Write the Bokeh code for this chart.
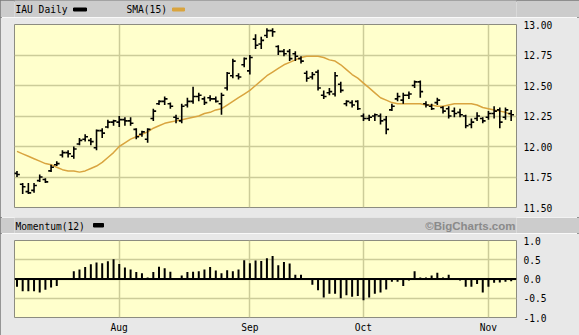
from bokeh.plotting import figure
from bokeh.layouts import column
from bokeh.models import (Range1d, LinearAxis, FixedTicker, Grid, NumeralTickFormatter,
                          Label, Span, ColumnDataSource)
from bokeh.transform import dodge
from bokeh.embed import file_html
from bokeh.resources import INLINE

# ---- data (IAU daily, Jul 6 - Nov 7 2017, trading-day index) ----
opens = [11.78, 11.69, 11.63, 11.64, 11.72, 11.73, 11.80, 11.85, 11.93, 11.95,
         11.92, 12.02, 12.06, 12.05, 11.99, 12.13, 12.16, 12.20, 12.20, 12.22,
         12.21, 12.14, 12.10, 12.06, 12.23, 12.35, 12.37, 12.35, 12.24, 12.21,
         12.34, 12.37, 12.41, 12.39, 12.40, 12.39, 12.35, 12.48, 12.58, 12.58,
         12.67, 12.62, 12.88, 12.84, 12.91, 12.95, 12.82, 12.78, 12.78, 12.76,
         12.72, 12.60, 12.57, 12.61, 12.42, 12.44, 12.43, 12.51, 12.35, 12.36,
         12.37, 12.25, 12.23, 12.25, 12.25, 12.22, 12.30, 12.39, 12.38, 12.42,
         12.50, 12.53, 12.35, 12.33, 12.36, 12.32, 12.31, 12.29, 12.28, 12.25,
         12.18, 12.23, 12.23, 12.24, 12.27, 12.30, 12.24, 12.27]
highs = [11.80, 11.70, 11.70, 11.70, 11.77, 11.74, 11.85, 11.88, 11.97, 11.97,
         12.00, 12.07, 12.10, 12.07, 12.14, 12.15, 12.22, 12.22, 12.25, 12.24,
         12.24, 12.15, 12.13, 12.15, 12.31, 12.38, 12.41, 12.36, 12.26, 12.35,
         12.40, 12.49, 12.44, 12.41, 12.42, 12.41, 12.44, 12.61, 12.72, 12.60,
         12.73, 12.75, 12.92, 12.90, 12.97, 12.97, 12.83, 12.80, 12.80, 12.78,
         12.74, 12.62, 12.61, 12.63, 12.46, 12.48, 12.61, 12.53, 12.38, 12.38,
         12.38, 12.27, 12.26, 12.27, 12.27, 12.25, 12.35, 12.44, 12.44, 12.45,
         12.54, 12.54, 12.37, 12.35, 12.40, 12.33, 12.33, 12.32, 12.31, 12.26,
         12.23, 12.28, 12.24, 12.29, 12.33, 12.32, 12.32, 12.30]
lows = [11.75, 11.61, 11.61, 11.62, 11.71, 11.70, 11.79, 11.84, 11.91, 11.91,
        11.90, 12.01, 12.04, 12.01, 11.97, 12.07, 12.15, 12.17, 12.16, 12.17,
        12.17, 12.06, 12.08, 12.03, 12.21, 12.34, 12.34, 12.31, 12.19, 12.19,
        12.32, 12.35, 12.37, 12.34, 12.37, 12.36, 12.26, 12.46, 12.56, 12.55,
        12.65, 12.59, 12.80, 12.80, 12.89, 12.90, 12.75, 12.74, 12.70, 12.70,
        12.68, 12.53, 12.55, 12.46, 12.39, 12.42, 12.41, 12.44, 12.33, 12.32,
        12.30, 12.21, 12.21, 12.21, 12.18, 12.10, 12.29, 12.37, 12.35, 12.39,
        12.48, 12.40, 12.32, 12.30, 12.34, 12.27, 12.23, 12.24, 12.24, 12.15,
        12.15, 12.21, 12.19, 12.22, 12.23, 12.15, 12.22, 12.21]
closes = [11.77, 11.67, 11.62, 11.68, 11.75, 11.71, 11.83, 11.86, 11.95, 11.94,
          11.98, 12.05, 12.08, 12.04, 12.13, 12.11, 12.20, 12.21, 12.22, 12.21,
          12.19, 12.08, 12.12, 12.14, 12.29, 12.37, 12.39, 12.33, 12.23, 12.33,
          12.37, 12.41, 12.42, 12.36, 12.39, 12.37, 12.42, 12.60, 12.70, 12.57,
          12.72, 12.73, 12.83, 12.87, 12.95, 12.94, 12.78, 12.76, 12.72, 12.74,
          12.70, 12.56, 12.59, 12.48, 12.41, 12.45, 12.58, 12.46, 12.37, 12.34,
          12.31, 12.23, 12.24, 12.26, 12.21, 12.14, 12.33, 12.41, 12.42, 12.43,
          12.53, 12.45, 12.34, 12.31, 12.38, 12.29, 12.25, 12.27, 12.26, 12.17,
          12.20, 12.25, 12.21, 12.27, 12.29, 12.20, 12.30, 12.26]
sma15 = [11.96, 11.94, 11.92, 11.90, 11.88, 11.86, 11.85, 11.83, 11.81, 11.80,
         11.80, 11.79, 11.80, 11.82, 11.84, 11.87, 11.91, 11.95, 12.00, 12.03,
         12.06, 12.08, 12.10, 12.12, 12.15, 12.17, 12.19, 12.20, 12.21, 12.22,
         12.23, 12.24, 12.25, 12.27, 12.28, 12.30, 12.31, 12.34, 12.37, 12.40,
         12.43, 12.46, 12.50, 12.54, 12.58, 12.61, 12.64, 12.67, 12.69, 12.71,
         12.73, 12.74, 12.74, 12.74, 12.73, 12.71, 12.70, 12.67, 12.63, 12.59,
         12.56, 12.52, 12.48, 12.44, 12.40, 12.38, 12.36, 12.35, 12.35, 12.35,
         12.35, 12.35, 12.34, 12.34, 12.33, 12.33, 12.34, 12.35, 12.35, 12.35,
         12.35, 12.34, 12.32, 12.31, 12.30, 12.29, 12.28, 12.26]
momentum = [-0.20, -0.32, -0.32, -0.32, -0.35, -0.28, -0.22, -0.18, 0.0, 0.0,
            0.20, 0.25, 0.31, 0.38, 0.43, 0.41, 0.46, 0.51, 0.39, 0.30,
            0.25, 0.18, 0.15, 0.04, 0.18, 0.32, 0.28, 0.19, 0.0, 0.09,
            0.18, 0.19, 0.20, 0.25, 0.31, 0.22, 0.15, 0.23, 0.20, 0.25,
            0.49, 0.41, 0.48, 0.47, 0.54, 0.60, 0.36, 0.44, 0.40, 0.11,
            0.11, 0.0, -0.15, -0.29, -0.48, -0.38, -0.38, -0.50, -0.42, -0.46,
            -0.44, -0.55, -0.48, -0.38, -0.35, -0.27, -0.07, -0.07, -0.18, -0.04,
            0.20, 0.04, 0.04, 0.09, 0.16, 0.04, 0.11, 0.0, -0.04, -0.20,
            -0.20, -0.13, -0.35, -0.20, -0.10, -0.09, -0.07, -0.06]
month_ticks = [18, 41, 61, 83]
month_labels = ["Aug", "Sep", "Oct", "Nov"]
price_ticks = [11.50, 11.75, 12.00, 12.25, 12.50, 12.75, 13.00]
mom_ticks = [-1.0, -0.5, 0.0, 0.5, 1.0]

# ---- styles ----
W = 579
LEFT = 14
RIGHT = 63
BG = "#e8e8e8"
BAND = "#cccccc"
FRAME = "#ffffcc"
GRID = "#cccc99"
SMA_COL = "#d9a43f"
MONO = "DejaVu Sans Mono"
FS = "9.6px"

src = ColumnDataSource(dict(x=list(range(len(closes))), o=opens, h=highs, l=lows,
                            c=closes, s=sma15, m=momentum))
xr = Range1d(-0.44, 87.94)


def header(height, items):
    # same borders as the panels; x data == page pixel inside the frame
    f = figure(width=W, height=height, x_range=Range1d(LEFT, W - RIGHT),
               y_range=Range1d(height, 0),
               x_axis_type=None, y_axis_type=None, toolbar_location=None,
               output_backend="svg", min_border=0, min_border_left=LEFT,
               min_border_right=RIGHT, min_border_top=0, min_border_bottom=0)
    f.background_fill_color = BAND
    f.border_fill_color = BAND
    f.outline_line_color = None
    for it in items:
        f.add_layout(it)
    return f


def lab(x, y, text, align="left", font=MONO, size=FS, color="black", style="normal"):
    return Label(x=x, y=y, text=text, text_align=align, text_baseline="middle",
                 text_font=font, text_font_size=size, text_color=color, text_font_style=style)


def style_axis(ax, standoff):
    ax.axis_line_color = None
    ax.major_tick_line_color = None
    ax.minor_tick_line_color = None
    ax.major_tick_out = 0
    ax.major_tick_in = 0
    ax.major_label_standoff = standoff
    ax.major_label_text_font = MONO
    ax.major_label_text_font_size = FS
    ax.major_label_text_color = "black"


# header 1
h1 = header(17, [lab(15, 9, "IAU Daily"), lab(126, 9, "SMA(15)"),
                 lab(571, 9, "11/07/17", align="right")])
h1.quad(left=[73], right=[86], top=[7.5], bottom=[10.5], color="black")
h1.quad(left=[172], right=[184], top=[7.5], bottom=[10.5], color=SMA_COL)

# main price panel
p = figure(width=W, height=200, x_range=xr, y_range=Range1d(11.5, 13.0),
           x_axis_type=None, y_axis_type=None, toolbar_location=None,
           output_backend="svg", min_border_left=LEFT, min_border_right=RIGHT,
           min_border_top=7, min_border_bottom=10)
p.background_fill_color = FRAME
p.border_fill_color = BG
p.outline_line_color = "#8c8c80"
p.add_layout(Grid(dimension=0, ticker=FixedTicker(ticks=month_ticks),
                  grid_line_color=GRID, grid_line_width=1.5))
p.add_layout(Grid(dimension=1, ticker=FixedTicker(ticks=price_ticks),
                  grid_line_color=GRID, grid_line_width=1.5))
ya = LinearAxis(ticker=FixedTicker(ticks=price_ticks),
                formatter=NumeralTickFormatter(format="0.00"))
style_axis(ya, 7)
p.add_layout(ya, "right")

p.line("x", "s", source=src, color=SMA_COL, line_width=1.5)
p.segment(x0="x", y0="l", x1="x", y1="h", source=src, color="black", line_width=1.6)
p.segment(x0=dodge("x", -0.5, range=xr), y0="o", x1="x", y1="o", source=src,
          color="black", line_width=1.6)
p.segment(x0="x", y0="c", x1=dodge("x", 0.5, range=xr), y1="c", source=src,
          color="black", line_width=1.6)

# header 2
h2 = header(16, [lab(15, 8.5, "Momentum(12)"),
                 lab(515, 8.3, "\u00a9BigCharts.com", align="right",
                     font="Liberation Sans", size="11.5px", color="#8a8a8a", style="bold")])
h2.quad(left=[93], right=[103], top=[6], bottom=[9.5], color="black")

# momentum panel
m = figure(width=W, height=102, x_range=xr, y_range=Range1d(-1.0, 1.0),
           x_axis_type=None, y_axis_type=None, toolbar_location=None,
           output_backend="svg", min_border_left=LEFT, min_border_right=RIGHT,
           min_border_top=7, min_border_bottom=18)
m.background_fill_color = FRAME
m.border_fill_color = BG
m.outline_line_color = "#8c8c80"
m.add_layout(Grid(dimension=0, ticker=FixedTicker(ticks=month_ticks),
                  grid_line_color=GRID, grid_line_width=1.5))
m.add_layout(Grid(dimension=1, ticker=FixedTicker(ticks=mom_ticks),
                  grid_line_color=GRID, grid_line_width=1.5))
my = LinearAxis(ticker=FixedTicker(ticks=mom_ticks),
                formatter=NumeralTickFormatter(format="0.0"))
mx = LinearAxis(ticker=FixedTicker(ticks=month_ticks),
                major_label_overrides={t: s for t, s in zip(month_ticks, month_labels)})
style_axis(my, 7)
style_axis(mx, 4)
m.add_layout(my, "right")
m.add_layout(mx, "below")
m.add_layout(Span(location=0, dimension="width", line_color="black", line_width=2))
m.segment(x0="x", y0=0, x1="x", y1="m", source=src, color="black", line_width=2)

layout = column(h1, p, h2, m, spacing=0,
                styles={"outline": "2px solid #7a7a7a", "outline-offset": "-2px"})
open("out.html", "w").write(file_html(layout, INLINE))
